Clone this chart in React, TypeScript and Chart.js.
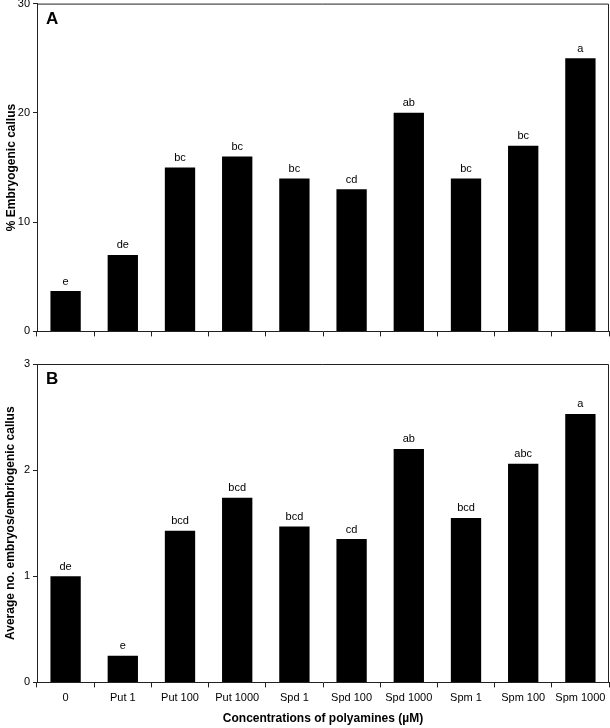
import React, { useEffect, useRef } from "react";
import { Chart, registerables } from "chart.js";

Chart.register(...registerables);

const categories = ["0", "Put 1", "Put 100", "Put 1000", "Spd 1", "Spd 100", "Spd 1000", "Spm 1", "Spm 100", "Spm 1000"];
const embryogenicCallus = [3.7, 7, 15, 16, 14, 13, 20, 14, 17, 25];
const callusLetters = ["e", "de", "bc", "bc", "bc", "cd", "ab", "bc", "bc", "a"];
const embryosPerCallus = [1.0, 0.25, 1.43, 1.74, 1.47, 1.35, 2.2, 1.55, 2.06, 2.53];
const embryoLetters = ["de", "e", "bcd", "bcd", "bcd", "cd", "ab", "bcd", "abc", "a"];
const yTicksA = [0, 10, 20, 30];
const yTicksB = [0, 1, 2, 3];

const FONT = "'Liberation Sans', Arial, sans-serif";

function makeConfig(
  values: number[],
  letters: string[],
  panel: string,
  yTitle: string,
  yTicks: number[],
  showXLabels: boolean,
  padTop: number,
  titlePad: number
): any {
  const lettersPlugin = {
    id: "letters" + panel,
    afterDatasetsDraw(chart: any) {
      const ctx = chart.ctx;
      const meta = chart.getDatasetMeta(0);
      ctx.save();
      ctx.fillStyle = "#000";
      ctx.font = `11px ${FONT}`;
      ctx.textAlign = "center";
      ctx.textBaseline = "bottom";
      meta.data.forEach((bar: any, i: number) => {
        ctx.fillText(letters[i], bar.x, bar.y - 4);
      });
      const a = chart.chartArea;
      ctx.font = `bold 17px ${FONT}`;
      ctx.textAlign = "left";
      ctx.textBaseline = "top";
      ctx.fillText(panel, a.left + 9, a.top + 7);
      ctx.strokeStyle = "#222";
      ctx.lineWidth = 1;
      ctx.beginPath();
      ctx.moveTo(a.left, a.top + 0.5);
      ctx.lineTo(a.right - 0.5, a.top + 0.5);
      ctx.lineTo(a.right - 0.5, a.bottom);
      ctx.stroke();
      ctx.restore();
    },
  };
  return {
    type: "bar",
    data: {
      labels: categories,
      datasets: [
        {
          data: values,
          backgroundColor: "#000",
          borderWidth: 0,
          barPercentage: 0.53,
          categoryPercentage: 1,
        },
      ],
    },
    options: {
      responsive: false,
      animation: false,
      devicePixelRatio: 1,
      layout: { padding: { top: padTop, right: 1, left: 0, bottom: 0 } },
      plugins: { legend: { display: false }, tooltip: { enabled: false } },
      scales: {
        x: {
          grid: { offset: true, drawOnChartArea: false, drawTicks: true, tickLength: 5, color: "#222" },
          border: { display: true, color: "#222" },
          ticks: {
            display: showXLabels,
            color: "#000",
            font: { family: FONT, size: 11 },
            maxRotation: 0,
            autoSkip: false,
            padding: 4,
          },
          title: {
            display: showXLabels,
            text: "Concentrations of polyamines (µM)",
            color: "#000",
            font: { family: FONT, size: 12, weight: "bold" },
            padding: { top: 3, bottom: 0 },
          },
        },
        y: {
          min: yTicks[0],
          max: yTicks[yTicks.length - 1],
          afterBuildTicks: (s: any) => {
            s.ticks = yTicks.map((v) => ({ value: v }));
          },
          afterFit: (s: any) => {
            s.width = 37;
          },
          grid: { drawOnChartArea: false, drawTicks: true, tickLength: 4, color: "#222" },
          border: { display: true, color: "#222" },
          ticks: {
            color: "#000",
            font: { family: FONT, size: 11 },
            padding: 3,
          },
          title: {
            display: true,
            text: yTitle,
            color: "#000",
            font: { family: FONT, size: 12, weight: "bold" },
            padding: { top: titlePad, bottom: 0 },
          },
        },
      },
    },
    plugins: [lettersPlugin],
  };
}

export default function App() {
  const refA = useRef<HTMLCanvasElement>(null);
  const refB = useRef<HTMLCanvasElement>(null);

  useEffect(() => {
    document.body.style.margin = "0";
    const a = new Chart(
      refA.current as HTMLCanvasElement,
      makeConfig(embryogenicCallus, callusLetters, "A", "% Embryogenic callus", yTicksA, false, 0, 4)
    );
    const b = new Chart(
      refB.current as HTMLCanvasElement,
      makeConfig(embryosPerCallus, embryoLetters, "B", "Average no. embryos/embriogenic callus", yTicksB, true, 22, 3)
    );
    return () => {
      a.destroy();
      b.destroy();
    };
  }, []);

  return (
    <div style={{ position: "relative", width: 610, height: 728, background: "#fff", overflow: "hidden" }}>
      <canvas ref={refA} width={610} height={347} style={{ position: "absolute", left: 0, top: -6 }} />
      <canvas ref={refB} width={610} height={384} style={{ position: "absolute", left: 0, top: 342 }} />
    </div>
  );
}
